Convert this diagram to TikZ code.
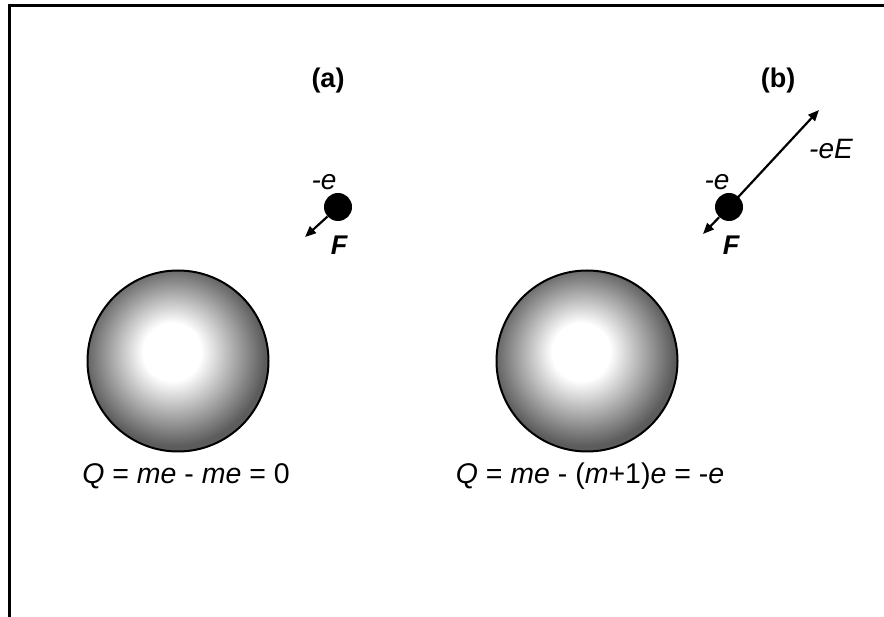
\documentclass[tikz,border=0pt]{standalone}
\usepackage{fontspec}
\setmainfont{Liberation Sans}
\usetikzlibrary{arrows.meta}
\pgfdeclareradialshading{sphereshade}{\pgfpoint{-2bp}{3bp}}{color(0bp)=(white); color(8bp)=(white); color(25bp)=(black!64); color(50bp)=(black!64)}
\begin{document}
\begin{tikzpicture}[x=1pt,y=-1pt,
  frameline/.style={line width=3pt},
  sphere/.style={circle, draw=black, line width=2pt, minimum size=181pt, inner sep=0pt, shading=sphereshade},
  electron/.style={circle, fill=black, minimum size=28pt, inner sep=0pt},
  force/.style={line width=2.2pt, -{Triangle[length=11pt,width=9pt]}},
  lbl/.style={font=\fontsize{28}{32}\selectfont\itshape, inner sep=0pt},
  flbl/.style={font=\fontsize{27}{30}\selectfont\bfseries\itshape, inner sep=0pt, anchor=base},
  panel/.style={font=\fontsize{27}{30}\selectfont\bfseries, inner sep=0pt},
  caption/.style={font=\fontsize{28.5}{32}\selectfont, inner sep=0pt, anchor=base}]
\useasboundingbox (0,0) rectangle (884,617);
% frame (only top and left edges visible)
\coordinate (fTL) at (9,6);
\coordinate (fTR) at (884,6);
\coordinate (fBL) at (9,617);
\draw[frameline] (fTR) -- (fTL) -- (fBL);
% panel labels
\node[panel] (pa) at (328,81) {(a)};
\node[panel] (pb) at (778,81) {(b)};
% spheres
\node[sphere] (sa) at (178,361) {};
\node[sphere] (sb) at (587,361) {};
% captions
\node[caption] (ca) at (186,484) {\textit{Q} = \textit{me} - \textit{me} = 0};
\node[caption] (cb) at (590,484) {\textit{Q} = \textit{me} - (\textit{m}+1)\textit{e} = -\textit{e}};
% electron (a)
\node[electron] (ea) at (338,207) {};
\coordinate (fa) at (305,237);
\draw[force] (ea) -- (fa);
\node[lbl, anchor=base] (ela) at (324,190) {-e};
\node[flbl] (Fa) at (339,255) {F};
% electron (b)
\node[electron] (eb) at (729,207) {};
\coordinate (fb) at (703,234);
\coordinate (eE) at (819,110);
\draw[force] (eb.center) -- (eE);
\draw[force] (eb) -- (fb);
\node[lbl, anchor=base] (elb) at (717,190) {-e};
\node[lbl, anchor=base] (leE) at (831,159) {-eE};
\node[flbl] (Fb) at (731,255) {F};
\end{tikzpicture}
\end{document}
